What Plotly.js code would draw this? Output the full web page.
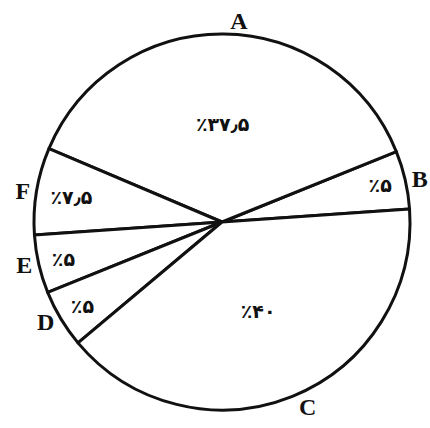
<!DOCTYPE html>
<html><head><meta charset="utf-8">
<script src="https://cdn.plot.ly/plotly-3.0.1.min.js"></script>
<style>body{margin:0;background:#fff}#c{width:430px;height:428px}</style>
</head><body><div id="c"></div>
<script>
var labels = ["B", "A", "F", "E", "D", "C"];
var values = [5, 37.5, 7.5, 5, 5, 40];
var pctText = ["٪۵", "٪۳۷٫۵", "٪۷٫۵", "٪۵", "٪۵", "٪۴۰"];

var common = {
  type: "pie", values: values, labels: labels, sort: false,
  direction: "counterclockwise", rotation: 68,
  domain: {x: [0, 1], y: [0, 1]}, hoverinfo: "none", showlegend: false
};
var inner = Object.assign({}, common, {
  text: pctText, textinfo: "text", textposition: "inside",
  insidetextorientation: "horizontal",
  textfont: {family: "DejaVu Sans", size: 19, color: "#111", weight: "bold"},
  marker: {colors: labels.map(function(){return "#ffffff";}), line: {color: "#111", width: 3}}
});
var outer = Object.assign({}, common, {
  text: labels, textinfo: "text", textposition: "outside",
  textfont: {family: "Liberation Serif", size: 24, color: "#111", weight: "bold"},
  marker: {colors: labels.map(function(){return "rgba(0,0,0,0)";}), line: {width: 0}}
});
Plotly.newPlot("c", [inner, outer], {
  width: 430, height: 428,
  margin: {l: 34, r: 20, t: 34, b: 18},
  paper_bgcolor: "#fff", plot_bgcolor: "#fff"
}, {displayModeBar: false, staticPlot: true});
</script></body></html>
